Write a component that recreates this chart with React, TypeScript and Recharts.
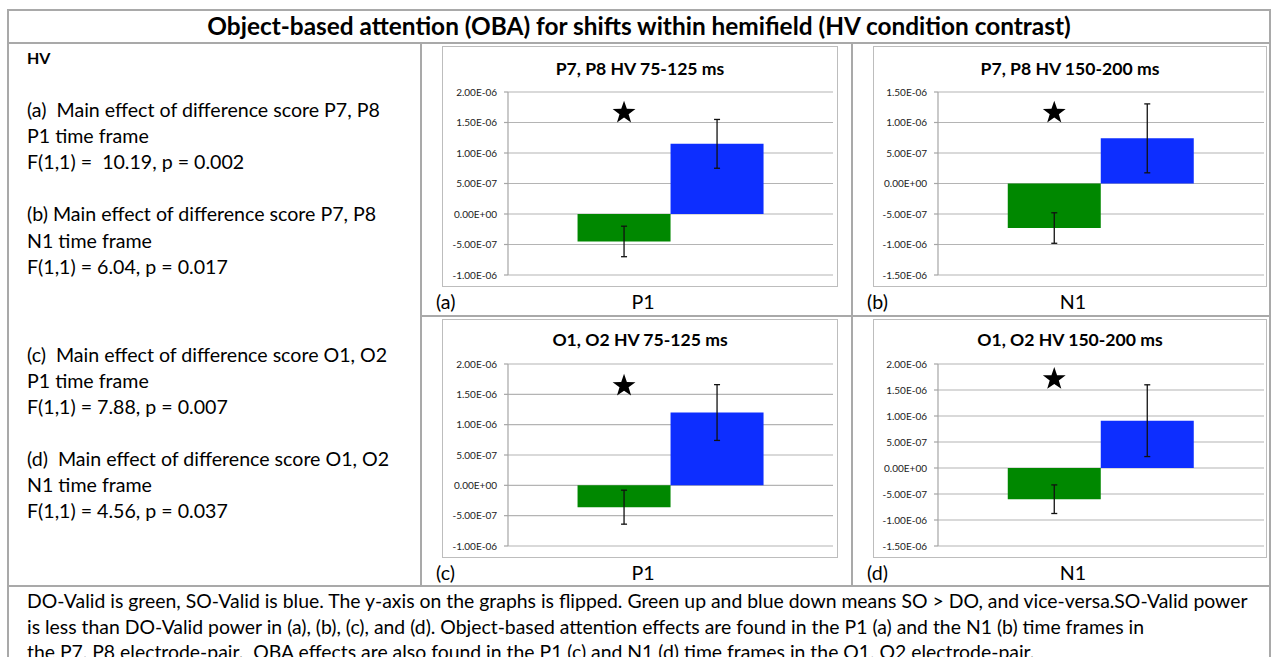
import { BarChart, Bar, XAxis, YAxis, CartesianGrid, ErrorBar, LabelList } from 'recharts';

// values per panel (a)-(d)
const panelTags = ['(a)', '(b)', '(c)', '(d)'];
const panelTitles = ['P7, P8 HV 75-125 ms', 'P7, P8 HV 150-200 ms', 'O1, O2 HV 75-125 ms', 'O1, O2 HV 150-200 ms'];
const timeFrames = ['P1', 'N1', 'P1', 'N1'];
const doValid = [-4.5e-7, -7.3e-7, -3.6e-7, -6.0e-7];
const doValidErr = [2.5e-7, 2.5e-7, 2.8e-7, 2.75e-7];
const soValid = [1.15e-6, 7.4e-7, 1.2e-6, 9.1e-7];
const soValidErr = [4.0e-7, 5.65e-7, 4.6e-7, 6.9e-7];
const starLevel = [1.66e-6, 1.16e-6, 1.64e-6, 1.71e-6];
const yTicks = [
  [-1e-6, -5e-7, 0, 5e-7, 1e-6, 1.5e-6, 2e-6],
  [-1.5e-6, -1e-6, -5e-7, 0, 5e-7, 1e-6, 1.5e-6],
  [-1e-6, -5e-7, 0, 5e-7, 1e-6, 1.5e-6, 2e-6],
  [-1.5e-6, -1e-6, -5e-7, 0, 5e-7, 1e-6, 1.5e-6, 2e-6],
];

const titleText = 'Object-based attention (OBA) for shifts within hemifield (HV condition contrast)';
const leftLines = [
  '(a)  Main effect of difference score P7, P8',
  'P1 time frame',
  'F(1,1) =  10.19, p = 0.002',
  '',
  '(b) Main effect of difference score P7, P8',
  'N1 time frame',
  'F(1,1) = 6.04, p = 0.017',
];
const leftLines2 = [
  '(c)  Main effect of difference score O1, O2',
  'P1 time frame',
  'F(1,1) = 7.88, p = 0.007',
  '',
  '(d)  Main effect of difference score O1, O2',
  'N1 time frame',
  'F(1,1) = 4.56, p = 0.037',
];
const footerLines = [
  'DO-Valid is green, SO-Valid is blue. The y-axis on the graphs is flipped. Green up and blue down means SO > DO, and vice-versa.SO-Valid power',
  'is less than DO-Valid power in (a), (b), (c), and (d). Object-based attention effects are found in the P1 (a) and the N1 (b) time frames in',
  'the P7, P8 electrode-pair.  OBA effects are also found in the P1 (c) and N1 (d) time frames in the O1, O2 electrode-pair.',
];

// chart boxes inside the table
const boxes = [
  { left: 442, top: 46, width: 396, height: 241, axisW: 66, right: 5, mTop: 46 },
  { left: 873, top: 46, width: 394, height: 241, axisW: 65, right: 3, mTop: 46 },
  { left: 442, top: 319, width: 396, height: 239, axisW: 66, right: 5, mTop: 45 },
  { left: 873, top: 319, width: 394, height: 239, axisW: 65, right: 3, mTop: 45 },
];

const FONT = 'Lato, "Open Sans", sans-serif';
const LINE = '#a9a9a9';
const GREEN = '#008800';
const BLUE = '#0d2eff';
const BODY = 19.6;

const sci = (v: number) => {
  if (Math.abs(v) < 1e-15) return '0.00E+00';
  const [m, e] = v.toExponential(2).split('e');
  const n = Number(e);
  return `${m}E${n < 0 ? '-' : '+'}${String(Math.abs(n)).padStart(2, '0')}`;
};

const starPath = (cx: number, cy: number, R: number) => {
  const r = R * 0.4;
  let d = '';
  for (let k = 0; k < 10; k++) {
    const a = -Math.PI / 2 + (k * Math.PI) / 5;
    const rad = k % 2 === 0 ? R : r;
    d += `${k === 0 ? 'M' : 'L'}${cx + rad * Math.cos(a)},${cy + rad * Math.sin(a)}`;
  }
  return d + 'Z';
};

// star sits over the green bar; its height comes from the bar's own pixel scale
const makeStar = (barValue: number) => (props: any) => {
  const vb = props.viewBox ?? props;
  const { x, y, width, height } = vb;
  const top = Math.min(y, y + height);
  const bottom = Math.max(y, y + height);
  const zeroY = barValue < 0 ? top : bottom;
  const pxPerUnit = (bottom - top) / Math.abs(barValue);
  const cy = zeroY - Number(props.value) * pxPerUnit;
  return <path d={starPath(x + width / 2, cy, 12)} fill="#000" />;
};

const Panel = ({ i }: { i: number }) => {
  const b = boxes[i];
  const ticks = yTicks[i];
  const data = [{
    tf: timeFrames[i],
    dov: doValid[i],
    doErr: doValidErr[i],
    sov: soValid[i],
    soErr: soValidErr[i],
    star: starLevel[i],
  }];
  return (
    <>
      <div style={{ position: 'absolute', left: b.left, top: b.top, width: b.width, height: b.height, border: '1px solid #bdbdbd', boxSizing: 'border-box' }} />
      <div style={{ position: 'absolute', left: b.left, top: b.top + (i < 2 ? 12 : 10), width: b.width, textAlign: 'center', fontWeight: 700, fontSize: 17.6, lineHeight: '22px' }}>
        {panelTitles[i]}
      </div>
      <div style={{ position: 'absolute', left: b.left, top: b.top }}>
        <BarChart width={b.width} height={b.height} data={data}
          margin={{ top: b.mTop, right: b.right, bottom: 12, left: 0 }}
          barCategoryGap="21.4%" barGap={0}>
          <CartesianGrid vertical={false} stroke="#b4b4b4" strokeWidth={1.2} />
          <XAxis dataKey="tf" hide />
          <YAxis width={b.axisW} domain={[ticks[0], ticks[ticks.length - 1]]} ticks={ticks}
            interval={0} tickFormatter={sci} tickSize={4} tickMargin={7}
            axisLine={{ stroke: '#a6a6a6', strokeWidth: 1.2 }} tickLine={{ stroke: '#a6a6a6', strokeWidth: 1.2 }}
            tick={{ fontSize: 10, fill: '#222', fontFamily: FONT }} />
          <Bar dataKey="dov" fill={GREEN} isAnimationActive={false}>
            <ErrorBar dataKey="doErr" width={3} stroke="#111" strokeWidth={1.3} />
            <LabelList dataKey="star" content={makeStar(doValid[i])} />
          </Bar>
          <Bar dataKey="sov" fill={BLUE} isAnimationActive={false}>
            <ErrorBar dataKey="soErr" width={3} stroke="#111" strokeWidth={1.3} />
          </Bar>
        </BarChart>
      </div>
      <div style={{ position: 'absolute', left: b.left - 6, top: b.top + b.height + 3, fontSize: BODY, lineHeight: '24px' }}>
        {panelTags[i]}
      </div>
      <div style={{ position: 'absolute', left: b.left + 3, width: b.width, top: b.top + b.height + 3, textAlign: 'center', fontSize: BODY, lineHeight: '24px' }}>
        {timeFrames[i]}
      </div>
    </>
  );
};

const hLine = (x: number, y: number, w: number) => (
  <div style={{ position: 'absolute', left: x, top: y, width: w, height: 2, background: LINE }} />
);
const vLine = (x: number, y: number, h: number) => (
  <div style={{ position: 'absolute', left: x, top: y, width: 2, height: h, background: LINE }} />
);

const TextLine = ({ x, y, text, bold, size }: { x: number; y: number; text: string; bold?: boolean; size: number }) => (
  <div style={{ position: 'absolute', left: x, top: y - 12, height: 24, lineHeight: '24px', fontSize: size, fontWeight: bold ? 700 : 400, whiteSpace: 'pre', color: '#000' }}>
    {text}
  </div>
);

export default function App() {
  return (
    <div style={{ position: 'absolute', left: 0, top: 0, width: 1276, height: 657, overflow: 'hidden', background: '#fff', fontFamily: FONT, color: '#000' }}>
      {hLine(7, 9, 1264)}
      {vLine(7, 9, 650)}
      {vLine(1269, 9, 650)}
      {hLine(7, 42, 1264)}
      {vLine(420, 43, 543)}
      {vLine(851, 43, 543)}
      {hLine(421, 315, 849)}
      {hLine(7, 585, 1264)}

      <div style={{ position: 'absolute', left: 7, width: 1264, top: 11, textAlign: 'center', fontWeight: 700, fontSize: 24.4, lineHeight: '30px' }}>
        {titleText}
      </div>

      <TextLine x={27} y={58} text="HV" bold size={16} />
      {leftLines.map((t, k) => <TextLine key={`a${k}`} x={27} y={110 + k * 26.1} text={t} size={BODY} />)}
      {leftLines2.map((t, k) => <TextLine key={`c${k}`} x={27} y={355 + k * 26.0} text={t} size={BODY} />)}

      {[0, 1, 2, 3].map((i) => <Panel key={i} i={i} />)}

      {footerLines.map((t, k) => <TextLine key={`f${k}`} x={27} y={601 + k * 25.5} text={t} size={19.4} />)}
    </div>
  );
}
